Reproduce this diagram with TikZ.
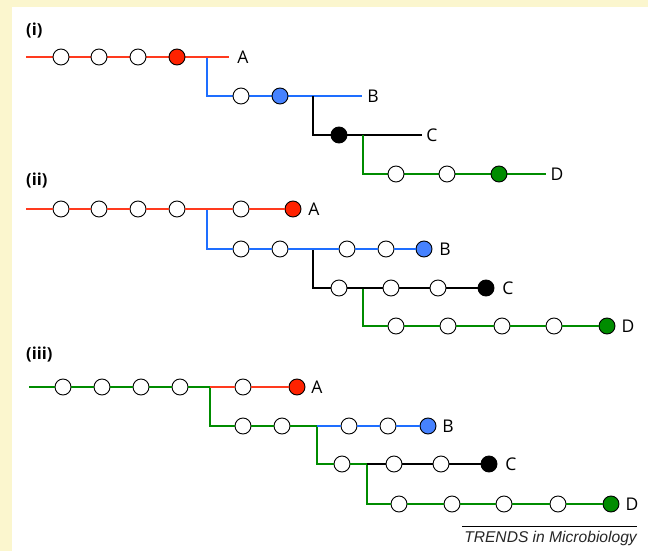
\documentclass[tikz,border=0pt]{standalone}
\usepackage{fontspec}
\setmainfont{Open Sans}
\newfontfamily\footfont{Liberation Sans}
\definecolor{paper}{RGB}{251,246,206}
\definecolor{redl}{RGB}{255,58,30}
\definecolor{redf}{RGB}{255,34,0}
\definecolor{bluel}{RGB}{30,110,255}
\definecolor{bluef}{RGB}{70,130,255}
\definecolor{greenl}{RGB}{0,140,0}
\definecolor{greenf}{RGB}{0,140,0}
\tikzset{
  lin/.style={line width=1.9pt},
  rline/.style={lin,draw=redl},
  bline/.style={lin,draw=bluel},
  kline/.style={lin,draw=black},
  gline/.style={lin,draw=greenl},
  dot/.style={circle,draw=black,line width=0.9pt,inner sep=0pt,minimum size=16pt,fill=white},
  rdot/.style={dot,fill=redf},
  bdot/.style={dot,fill=bluef},
  kdot/.style={dot,fill=black},
  gdot/.style={dot,fill=greenf},
  lbl/.style={inner sep=0pt,font=\fontsize{17.5}{20}\selectfont},
  plbl/.style={inner sep=0pt,anchor=west,font=\fontsize{16.5}{19}\selectfont\bfseries}
}
\begin{document}
\begin{tikzpicture}[x=1pt,y=-1pt]
\useasboundingbox (0,0) rectangle (648,551);
\fill[paper] (0,0) rectangle (648,551);
\fill[white] (12,7) rectangle (648,551);

% ---------- (i) ----------
\node[plbl] (p1) at (26,31) {(i)};
\coordinate (i-r0) at (26,57);  \coordinate (i-r1) at (229,57);
\coordinate (i-bj) at (207,57); \coordinate (i-bk) at (207,96);  \coordinate (i-b1) at (362,96);
\coordinate (i-kj) at (313,96); \coordinate (i-kk) at (313,135); \coordinate (i-k1) at (422,135);
\coordinate (i-gj) at (363,135);\coordinate (i-gk) at (363,174); \coordinate (i-g1) at (546,174);
\draw[bline] (i-bj) -- (i-bk) -- (i-b1);
\draw[rline] (i-r0) -- (i-r1);
\draw[kline] (i-kj) -- (i-kk) -- (i-k1);
\draw[gline] (i-gj) -- (i-gk) -- (i-g1);
\foreach \x [count=\k] in {61,99,138} \node[dot] (i-a\k) at (\x,57) {};
\node[rdot] (i-a4) at (177,57) {};
\node[dot]  (i-b1c) at (241,96) {};
\node[bdot] (i-b2c) at (280,96) {};
\node[kdot] (i-k1c) at (339,135) {};
\node[dot]  (i-g1c) at (396,174) {};
\node[dot]  (i-g2c) at (447,174) {};
\node[gdot] (i-g3c) at (499,174) {};
\node[lbl] (i-A) at (243,57) {A};
\node[lbl] (i-B) at (373,96) {B};
\node[lbl] (i-C) at (432,135) {C};
\node[lbl] (i-D) at (557,174) {D};

% ---------- (ii) ----------
\node[plbl] (p2) at (26,181) {(ii)};
\coordinate (ii-r0) at (26,209);
\coordinate (ii-bj) at (207,209); \coordinate (ii-bk) at (207,249);
\coordinate (ii-kj) at (313,249); \coordinate (ii-kk) at (313,288);
\coordinate (ii-gj) at (363,288); \coordinate (ii-gk) at (363,326);
\foreach \x [count=\k] in {61,99,138,177,241} \node[dot] (ii-a\k) at (\x,209) {};
\node[rdot] (ii-a6) at (293,209) {};
\foreach \x [count=\k] in {241,280,347,386} \node[dot] (ii-b\k) at (\x,249) {};
\node[bdot] (ii-b5) at (424,249) {};
\foreach \x [count=\k] in {339,391,438} \node[dot] (ii-k\k) at (\x,288) {};
\node[kdot] (ii-k4) at (486,288) {};
\foreach \x [count=\k] in {396,448,502,554} \node[dot] (ii-g\k) at (\x,326) {};
\node[gdot] (ii-g5) at (607,326) {};
\draw[bline] (ii-bj) -- (ii-bk) -- (ii-b1);
\draw[rline] (ii-r0) -- (ii-a1);
\draw[kline] (ii-kj) -- (ii-kk) -- (ii-k1);
\draw[gline] (ii-gj) -- (ii-gk) -- (ii-g1);
\foreach \a/\b in {a1/a2,a2/a3,a3/a4,a4/a5,a5/a6} \draw[rline] (ii-\a) -- (ii-\b);
\foreach \a/\b in {b1/b2,b2/b3,b3/b4,b4/b5} \draw[bline] (ii-\a) -- (ii-\b);
\foreach \a/\b in {k1/k2,k2/k3,k3/k4} \draw[kline] (ii-\a) -- (ii-\b);
\foreach \a/\b in {g1/g2,g2/g3,g3/g4,g4/g5} \draw[gline] (ii-\a) -- (ii-\b);
\node[lbl] (ii-A) at (314,209) {A};
\node[lbl] (ii-B) at (445,249) {B};
\node[lbl] (ii-C) at (508,288) {C};
\node[lbl] (ii-D) at (628,326) {D};

% ---------- (iii) ----------
\node[plbl] (p3) at (26,355) {(iii)};
\coordinate (iii-r0) at (29,387);
\coordinate (iii-j1) at (210,387); \coordinate (iii-k1) at (210,426);
\coordinate (iii-j2) at (317,426); \coordinate (iii-k2) at (317,464);
\coordinate (iii-j3) at (367,464); \coordinate (iii-k3) at (367,504);
\foreach \x [count=\k] in {63,102,141,180} \node[dot] (iii-s\k) at (\x,387) {};
\node[dot]  (iii-a1) at (243,387) {};
\node[rdot] (iii-a2) at (297,387) {};
\node[dot]  (iii-t1) at (243,426) {};
\node[dot]  (iii-t2) at (282,426) {};
\node[dot]  (iii-b1) at (349,426) {};
\node[dot]  (iii-b2) at (388,426) {};
\node[bdot] (iii-b3) at (428,426) {};
\node[dot]  (iii-u1) at (342,464) {};
\node[dot]  (iii-c1) at (394,464) {};
\node[dot]  (iii-c2) at (441,464) {};
\node[kdot] (iii-c3) at (489,464) {};
\foreach \x [count=\k] in {399,452,504,558} \node[dot] (iii-d\k) at (\x,504) {};
\node[gdot] (iii-d5) at (611,504) {};
% stem
\draw[gline] (iii-r0) -- (iii-s1);
\foreach \a/\b in {s1/s2,s2/s3,s3/s4} \draw[gline] (iii-\a) -- (iii-\b);
\draw[gline] (iii-s4) -- (iii-j1);
\draw[gline] (iii-j1) -- (iii-k1) -- (iii-t1);
\draw[gline] (iii-t1) -- (iii-t2);
\draw[gline] (iii-t2) -- (iii-j2) -- (iii-k2) -- (iii-u1);
\draw[gline] (iii-u1) -- (iii-j3) -- (iii-k3) -- (iii-d1);
\foreach \a/\b in {d1/d2,d2/d3,d3/d4,d4/d5} \draw[gline] (iii-\a) -- (iii-\b);
% tips
\draw[rline] (iii-j1) -- (iii-a1);
\draw[rline] (iii-a1) -- (iii-a2);
\draw[bline] (iii-j2) -- (iii-b1);
\draw[bline] (iii-b1) -- (iii-b2);
\draw[bline] (iii-b2) -- (iii-b3);
\draw[kline] (iii-j3) -- (iii-c1);
\draw[kline] (iii-c1) -- (iii-c2);
\draw[kline] (iii-c2) -- (iii-c3);
\node[lbl] (iii-A) at (317,387) {A};
\node[lbl] (iii-B) at (448,426) {B};
\node[lbl] (iii-C) at (511,464) {C};
\node[lbl] (iii-D) at (632,504) {D};

% ---------- credit line ----------
\coordinate (rule0) at (462,526);
\coordinate (rule1) at (637,526);
\draw[line width=0.8pt] (rule0) -- (rule1);
\node[inner sep=0pt,anchor=base east,font=\footfont\itshape\fontsize{15.6}{18}\selectfont,text=black!85] (credit) at (637,542) {TRENDS in Microbiology};
\end{tikzpicture}
\end{document}
